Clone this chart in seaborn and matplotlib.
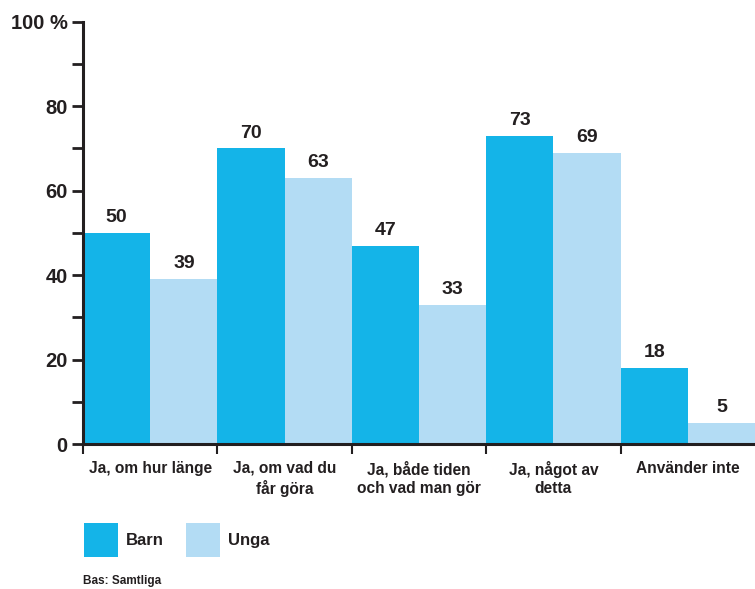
import pandas as pd
import numpy as np
import matplotlib.pyplot as plt
import seaborn as sns
from matplotlib.patches import Patch

categories = ["Ja, om hur länge", "Ja, om vad du\nfår göra", "Ja, både tiden\noch vad man gör",
              "Ja, något av\ndetta", "Använder inte"]
barn = [50, 70, 47, 73, 18]
unga = [39, 63, 33, 69, 5]
groups = ["Barn", "Unga"]
colors = ["#14b4e8", "#b3dcf4"]

df = pd.DataFrame({
    "kategori": categories * 2,
    "grupp": ["Barn"] * len(categories) + ["Unga"] * len(categories),
    "andel": barn + unga,
})

sns.set_style("white")
plt.rcParams["font.family"] = ["Liberation Sans", "DejaVu Sans"]
plt.rcParams["font.weight"] = "bold"
ink = "#231f20"

fig = plt.figure(figsize=(7.55, 5.89), dpi=100)
ax = fig.add_axes([0.110, 0.246, 0.890, 0.717])

sns.barplot(data=df, x="kategori", y="andel", hue="grupp", palette=colors,
            width=1.0, saturation=1, linewidth=0, ax=ax, legend=False)

for cont in ax.containers:
    ax.bar_label(cont, padding=5, fontsize=14, fontweight="bold", color=ink)

ax.set_xlim(-0.5, 4.5)
ax.set_ylim(0, 100)
ax.set_xlabel("")
ax.set_ylabel("")

ax.set_yticks([0, 20, 40, 60, 80, 100])
ax.set_yticklabels(["0", "20", "40", "60", "80", "100 %"], fontsize=14.5, fontweight="bold", color=ink)
ax.set_yticks([10, 30, 50, 70, 90], minor=True)
ax.tick_params(axis="y", which="both", direction="out", length=8, width=2, color=ink, left=True, pad=3)

ax.set_xticks(range(len(categories)))
ax.set_xticklabels(categories, fontsize=11.2, fontweight="bold", color=ink, linespacing=1.3, va="top")
ax.set_xticks([-0.5, 0.5, 1.5, 2.5, 3.5], minor=True)
ax.tick_params(axis="x", which="major", length=0, pad=12)
ax.tick_params(axis="x", which="minor", direction="out", length=7, width=1.5, color=ink, bottom=True)

for s in ["top", "right"]:
    ax.spines[s].set_visible(False)
for s in ["left", "bottom"]:
    ax.spines[s].set_color(ink)
    ax.spines[s].set_linewidth(2.2)
    ax.spines[s].set_zorder(5)

handles = [Patch(facecolor=c, edgecolor="none", label=g) for g, c in zip(groups, colors)]
fig.legend(handles=handles, loc="lower left", bbox_to_anchor=(84 / 755, 0.054), ncol=2,
           frameon=False, borderpad=0, borderaxespad=0,
           handlelength=2.04, handleheight=2.77, handletextpad=0.48,
           columnspacing=1.35, prop={"size": 12, "weight": "bold"}, labelcolor=ink)

fig.text(0.110, 0.004, "Bas: Samtliga", fontsize=8.5, fontweight="bold", color=ink, va="bottom")

fig.savefig("out.png", dpi=100)
